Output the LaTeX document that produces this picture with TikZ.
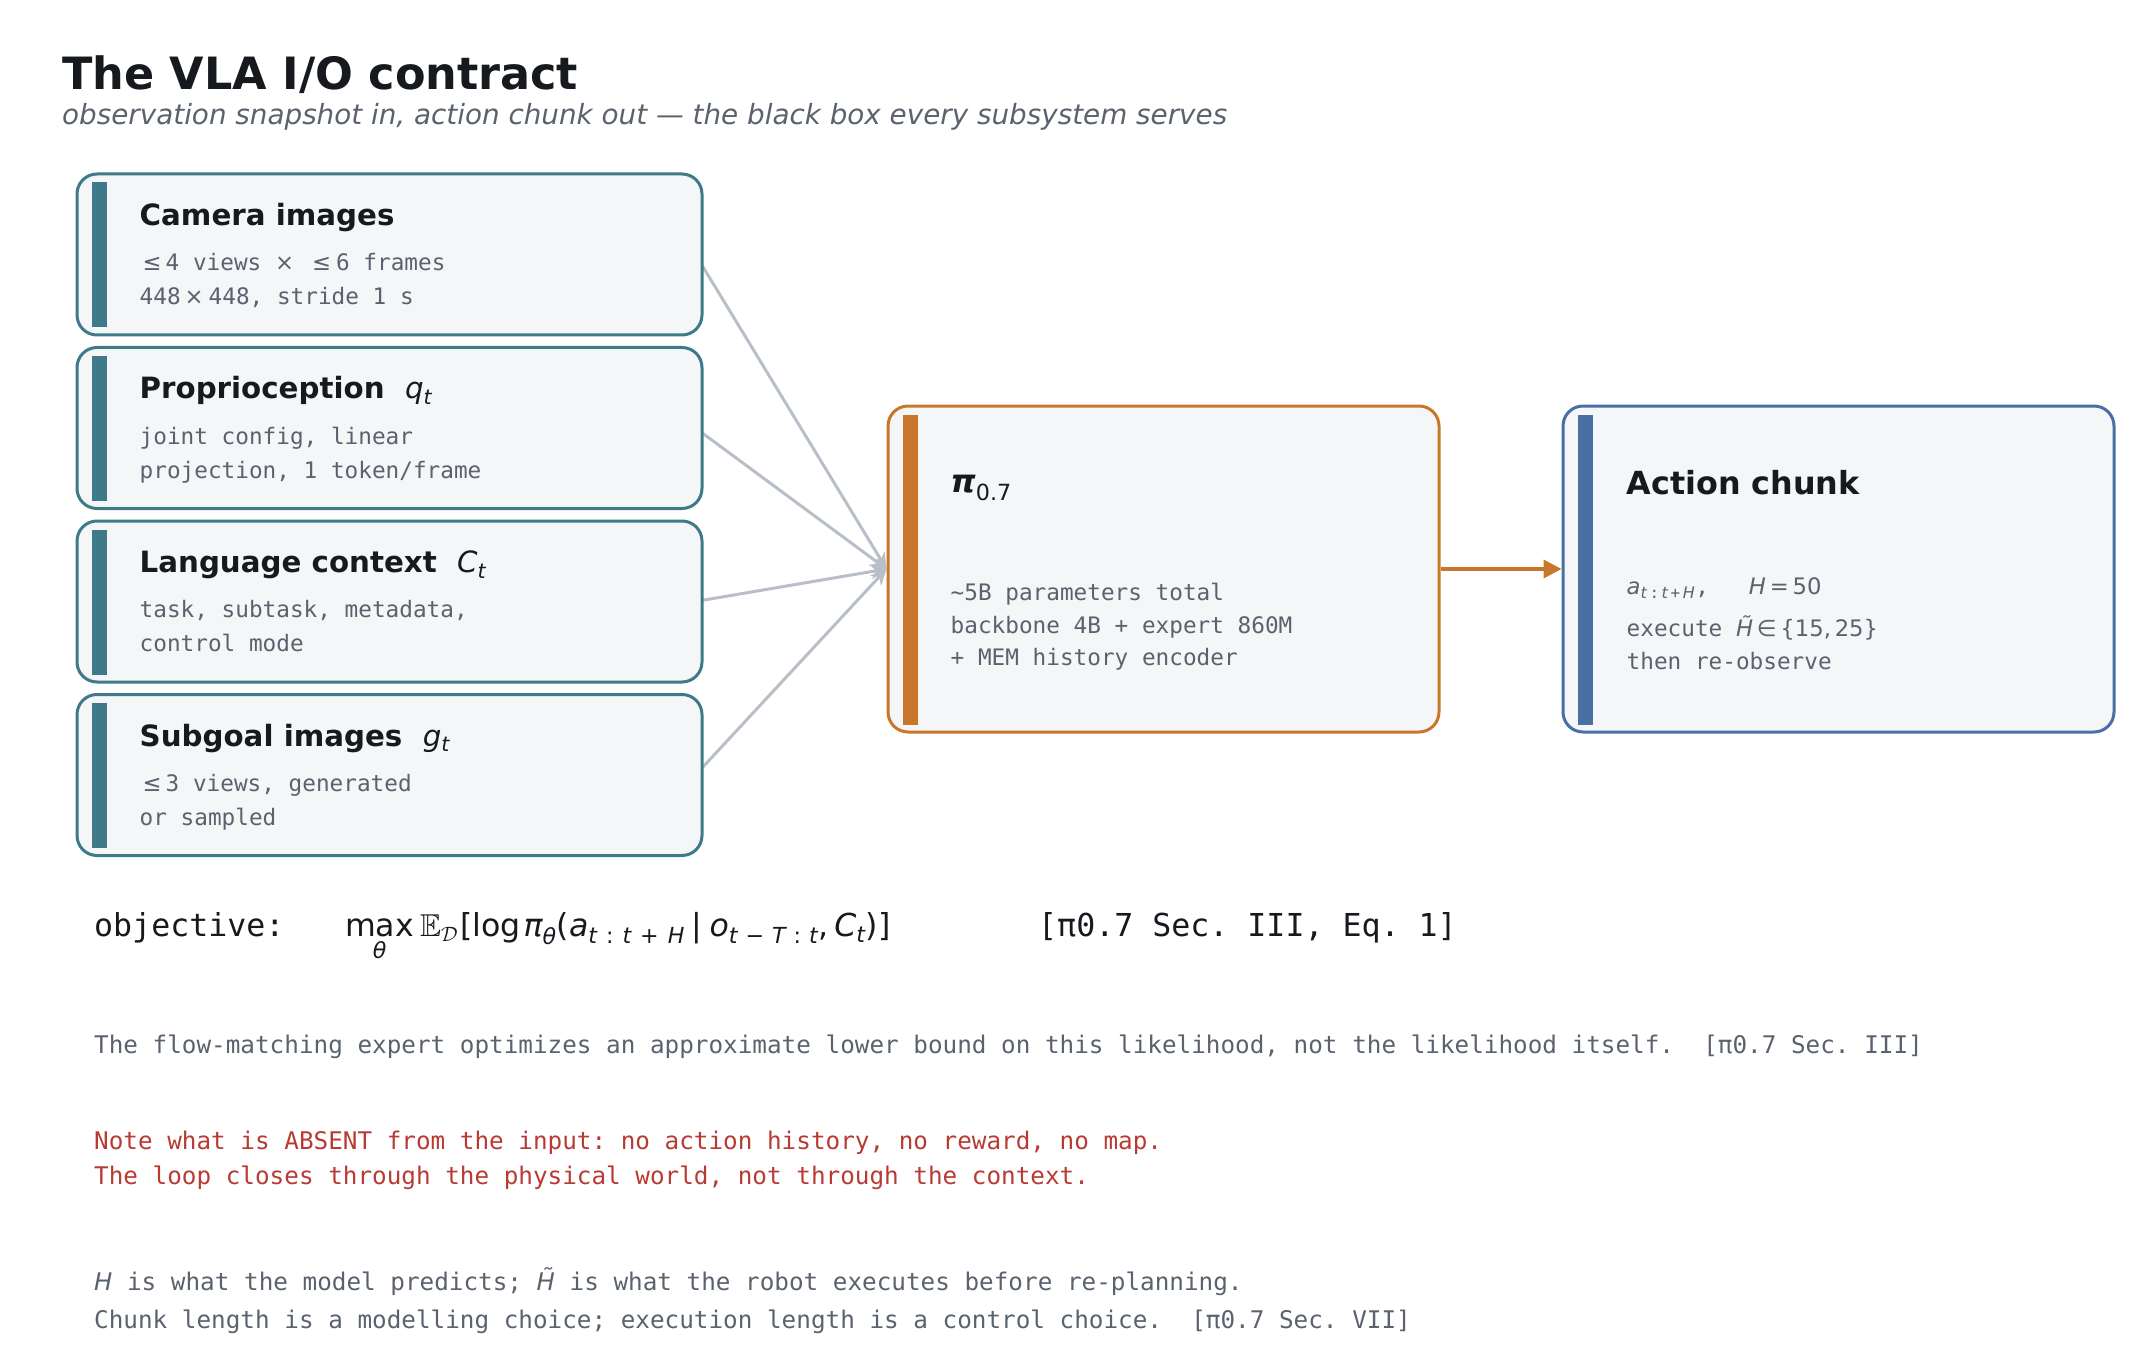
\documentclass[tikz,border=0pt]{standalone}
\usepackage{fontspec}
\setmainfont{DejaVu Sans}
\setmonofont{DejaVu Sans Mono}
\usepackage{amsmath, amssymb}
\usetikzlibrary{arrows.meta, positioning, calc, backgrounds}
\definecolor{inteal}{RGB}{62,122,138}
\definecolor{boxfill}{RGB}{244,246,248}
\definecolor{polorange}{RGB}{200,118,42}
\definecolor{outblue}{RGB}{74,111,165}
\definecolor{wiregray}{RGB}{184,191,200}
\definecolor{inkdark}{RGB}{22,25,29}
\definecolor{inkgray}{RGB}{90,98,110}
\definecolor{notered}{RGB}{185,58,50}
\newcommand{\vb}[1]{{\rmfamily\mdseries\itshape #1}}
\newcommand{\lo}[1]{\textsubscript{#1}}
\newcommand{\txtlines}[1]{\begin{tabular}[t]{@{}l@{}}#1\end{tabular}}

\begin{document}
\begin{tikzpicture}[x=1pt, y=-1pt,
  inbox/.style={draw=inteal, fill=boxfill, line width=3pt, rounded corners=20pt, minimum width=625pt, minimum height=161pt, inner sep=0pt},
  bigbox/.style={fill=boxfill, line width=3pt, rounded corners=20pt, minimum width=551pt, minimum height=326pt, inner sep=0pt},
  head/.style={anchor=base west, inner sep=0pt, text=inkdark, font=\fontsize{29.3}{34}\selectfont\bfseries},
  bighead/.style={head, font=\fontsize{31.8}{38}\selectfont\bfseries},
  body/.style={anchor=base west, inner sep=0pt, text=inkgray, font=\fontsize{22.7}{34}\selectfont\ttfamily},
  note/.style={anchor=base west, inner sep=0pt, text=inkgray, font=\fontsize{24.3}{35}\selectfont\ttfamily},
  feed/.style={draw=wiregray, line width=3pt, -{Stealth[length=16pt, width=15pt]}}]
  \useasboundingbox (0,0) rectangle (2148,1364);

  % title
  \node[anchor=base west, inner sep=0pt, text=inkdark, font=\fontsize{44.5}{50}\selectfont\bfseries] (title) at (62,90) {The VLA I/O contract};
  \node[anchor=base west, inner sep=0pt, text=inkgray, font=\fontsize{27.8}{32}\selectfont\itshape] (subtitle) at (62,125) {observation snapshot in, action chunk out — the black box every subsystem serves};

  % boxes
  \foreach \nm/\yy in {cam/254.5, prop/428, lang/601.5, goal/775}
    \node[inbox] (\nm) at (389.5,\yy) {};
  \node[bigbox, draw=polorange] (pol) at (1163.5,569) {};
  \node[bigbox, draw=outblue] (act) at (1838.5,569) {};
  \foreach \nm/\cl in {cam/inteal, prop/inteal, lang/inteal, goal/inteal, pol/polorange, act/outblue}
    \fill[\cl] ($(\nm.north west)+(16,10)$) rectangle ($(\nm.south west)+(31,-9)$);

  % inputs
  \node[head] (camT) at ($(cam.north west)+(64,53)$) {Camera images};
  \node[body] (camB) at ($(cam.north west)+(64,98)$) {\txtlines{\hspace{3pt}{\rmfamily≤}\hspace{4pt}4 views {\rmfamily×}\hspace{18pt}{\rmfamily≤}\hspace{5pt}6 frames\\448\hspace{4pt}{\rmfamily×}\hspace{5pt}448, stride 1 s}};
  \node[head] (propT) at ($(prop.north west)+(64,53)$) {Proprioception\ \ \vb{q}\lo{\vb{t}}};
  \node[body] (propB) at ($(prop.north west)+(64,98)$) {\txtlines{joint config, linear\\projection, 1 token/frame}};
  \node[head] (langT) at ($(lang.north west)+(64,53)$) {Language context\ \ \vb{C}\lo{\vb{t}}};
  \node[body] (langB) at ($(lang.north west)+(64,98)$) {\txtlines{task, subtask, metadata,\\control mode}};
  \node[head] (goalT) at ($(goal.north west)+(64,53)$) {Subgoal images\ \ \vb{g}\lo{\vb{t}}};
  \node[body] (goalB) at ($(goal.north west)+(64,98)$) {\txtlines{\hspace{3pt}{\rmfamily≤}\hspace{4pt}3 views, generated\\or sampled}};

  % model and output
  \node[bighead] (polT) at ($(pol.north west)+(64,88)$) {{\itshape π}\lo{\mdseries 0.7}};
  \node[body, font=\fontsize{22.7}{32.5}\selectfont\ttfamily] (polB) at ($(pol.north west)+(64,196)$) {\txtlines{\textasciitilde5B parameters total\\backbone 4B + expert 860M\\+ MEM history encoder}};
  \node[bighead] (actT) at ($(act.north west)+(65,90)$) {Action chunk};
  \node[body, font=\fontsize{22.7}{33}\selectfont\ttfamily] (actB) at ($(act.north west)+(65,190)$) {\txtlines{\vb{a}\lo{\vb{t}\,:\,\vb{t}\,+\,\vb{H}},\hspace{40pt}\vb{H}\,{\rmfamily=}\,{\rmfamily 50}\\[9pt]execute \vb{\~{H}}\,{\rmfamily∈\,\{15,\,25\}}\\then re-observe}};

  \begin{pgfonlayer}{background}
    \foreach \nm in {cam, prop, lang, goal}
      \draw[feed] ($(\nm.east)+(-8,0)$) -- (pol.west);
  \end{pgfonlayer}
  \draw[draw=polorange, line width=3.5pt, -{Triangle[length=18pt, width=18pt]}] (pol.east) -- (act.west);

  % objective and notes
  \node[anchor=base west, inner sep=0pt, text=inkdark, font=\fontsize{31.6}{36}\selectfont\ttfamily] (objL) at (94,936) {objective:};
  \node[anchor=base west, inner sep=0pt, text=inkdark, font=\fontsize{31.6}{36}\selectfont] (objF) at (345,936) {$\underset{\text{\itshape θ}}{\text{max}}$\hspace{6pt}$\mathbb{E}_{\mathcal{D}}$\hspace{2pt}[log\hspace{3pt}\vb{π}\lo{\vb{θ}}(\vb{a}\lo{\vb{t}\hspace{9pt}:\hspace{9pt}\vb{t}\hspace{9pt}+\hspace{9pt}\vb{H}}\hspace{7pt}|\hspace{7pt}\vb{o}\lo{\vb{t}\hspace{8pt}−\hspace{8pt}\vb{T}\hspace{8pt}:\hspace{8pt}\vb{t}},\hspace{6pt}\vb{C}\lo{\vb{t}})\hspace{1pt}]};
  \node[anchor=base west, inner sep=0pt, text=inkdark, font=\fontsize{31.6}{36}\selectfont\ttfamily] (objR) at (1038,936) {[π0.7 Sec. III, Eq. 1]};
  \node[note] (flow) at (94,1053) {The flow-matching expert optimizes an approximate lower bound on this likelihood, not the likelihood itself.\ \ [π0.7 Sec. III]};
  \node[note, text=notered] (absent) at (94,1149) {\txtlines{Note what is ABSENT from the input: no action history, no reward, no map.\\The loop closes through the physical world, not through the context.}};
  \node[note] (horizon) at (94,1290) {\txtlines{\vb{H} is what the model predicts; \vb{\~{H}} is what the robot executes before re-planning.\\[3pt]Chunk length is a modelling choice; execution length is a control choice.\ \ [π0.7 Sec. VII]}};
\end{tikzpicture}
\end{document}
